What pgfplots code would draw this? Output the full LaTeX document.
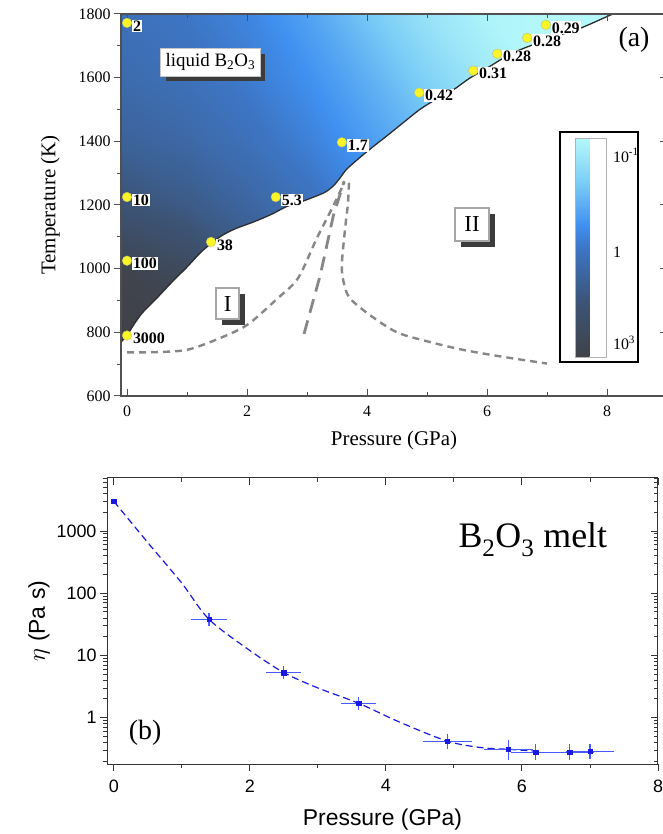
\documentclass[border=0pt]{standalone}
\usepackage{fontspec}
\setmainfont{Liberation Serif}
\setsansfont{Liberation Sans}
\usepackage{pgfplots}
\usepackage{pgfplotstable}
\pgfplotsset{compat=1.18}
\usetikzlibrary{shadows}

\definecolor{dotyellow}{RGB}{250,245,40}
\definecolor{edge}{RGB}{45,45,45}
\definecolor{phase}{RGB}{135,135,135}
\definecolor{bblue}{RGB}{25,25,225}
\definecolor{ebblue}{RGB}{70,90,255}
\definecolor{shadowgray}{RGB}{60,60,60}
\definecolor{axisgray}{RGB}{80,80,80}

\newcommand\fs[1]{\fontsize{#1}{#1}\selectfont}

\pgfplotsset{
  colormap={visc}{rgb255(0cm)=(64,66,72); rgb255(25cm)=(60,84,118);
    rgb255(50cm)=(61,118,198); rgb255(60cm)=(63,144,240);
    rgb255(80cm)=(124,206,246); rgb255(100cm)=(180,248,250)}
}

% colour of the liquid field (0 = 10^3 Pa s, 1 = 10^-1 Pa s)
\pgfplotstableread{
x T c
-0.1 600 0.00
1 600 0.00
2 600 0.05
3 600 0.25
4 600 0.40
5 600 0.50
6 600 0.60
7 600 0.70
9 600 0.80
-0.1 800 0.00
1 800 0.02
2 800 0.15
3 800 0.30
4 800 0.45
5 800 0.55
6 800 0.65
7 800 0.75
9 800 0.85
-0.1 1000 0.03
1 1000 0.12
2 1000 0.26
3 1000 0.38
4 1000 0.50
5 1000 0.60
6 1000 0.70
7 1000 0.80
9 1000 0.90
-0.1 1200 0.24
1 1200 0.30
2 1200 0.38
3 1200 0.46
4 1200 0.56
5 1200 0.66
6 1200 0.78
7 1200 0.88
9 1200 0.95
-0.1 1400 0.36
1 1400 0.40
2 1400 0.46
3 1400 0.54
4 1400 0.64
5 1400 0.74
6 1400 0.86
7 1400 0.95
9 1400 1.00
-0.1 1600 0.42
1 1600 0.46
2 1600 0.52
3 1600 0.60
4 1600 0.70
5 1600 0.82
6 1600 0.93
7 1600 1.00
9 1600 1.00
-0.1 1800 0.46
1 1800 0.50
2 1800 0.56
3 1800 0.66
4 1800 0.78
5 1800 0.90
6 1800 0.98
7 1800 1.00
9 1800 1.00
}\viscgrid

\begin{document}
\begin{tikzpicture}
\useasboundingbox (0,0) rectangle (663bp,834bp);

% ---------- (a) phase diagram ----------
\begin{axis}[
  at={(121bp,438bp)}, anchor=south west,
  scale only axis, width=546bp, height=382bp,
  xmin=-0.1, xmax=9, ymin=600, ymax=1800,
  xtick={0,2,4,6,8}, minor xtick={1,3,5,7},
  ytick={600,800,...,1800}, minor ytick={700,900,...,1700},
  xtick pos=both, ytick pos=right, yticklabels={},
  tick align=inside, major tick length=7bp, minor tick length=4bp,
  axis line style={draw=axisgray, line width=1.2bp},
  tick style={axisgray, line width=1bp},
  /pgf/number format/assume math mode=true,
  xticklabel style={font=\fs{16}, yshift=-6bp},
  xlabel={Pressure (GPa)}, xlabel style={font=\fs{21}}, xlabel shift=8bp,
  axis on top,
  colormap name=visc, point meta min=0, point meta max=1,
  colorbar,
  colorbar style={
    at={(parent axis.north west)}, anchor=north west,
    xshift=446bp, yshift=-124bp,
    scale only axis, width=31bp, height=219bp,
    ytick={0.064,0.48,0.92},
    yticklabels={10\textsuperscript{3},1,10\textsuperscript{-1}},
    yticklabel style={font=\fs{16}, xshift=3bp},
    major tick length=0pt,
    axis line style={draw=gray!60, line width=0.6bp},
  },
]
\addplot[surf, shader=interp, mesh/cols=9, point meta=explicit]
  table[x=x, y=T, meta=c] {\viscgrid};

% solid region (white) below the melting curve
\addplot[fill=white, draw=none] coordinates {
  (-0.1,770) (0.0,790) (0.1,820) (0.25,860) (0.5,908) (0.75,958) (1.0,1005)
  (1.25,1055) (1.55,1100) (1.8,1125) (2.1,1146) (2.4,1170) (2.66,1195)
  (2.9,1210) (3.1,1224) (3.3,1240) (3.44,1260) (3.55,1285) (3.66,1312)
  (3.88,1349) (4.1,1383) (4.33,1417) (4.6,1458) (4.88,1500) (5.15,1532)
  (5.44,1562) (5.7,1597) (6.0,1630) (6.4,1675) (6.83,1708) (7.2,1733)
  (7.55,1755) (7.8,1775) (8.0,1792) (8.1,1800)
  (9.2,1800) (9.2,590) (-0.2,590) (-0.2,770)} -- cycle;

% melting curve
\addplot[edge, line width=1.3bp, smooth] coordinates {
  (-0.1,770) (0.0,790) (0.1,820) (0.25,860) (0.5,908) (0.75,958) (1.0,1005)
  (1.25,1055) (1.55,1100) (1.8,1125) (2.1,1146) (2.4,1170) (2.66,1195)
  (2.9,1210) (3.1,1224) (3.3,1240) (3.44,1260) (3.55,1285) (3.66,1312)
  (3.88,1349) (4.1,1383) (4.33,1417) (4.6,1458) (4.88,1500) (5.15,1532)
  (5.44,1562) (5.7,1597) (6.0,1630) (6.4,1675) (6.83,1708) (7.2,1733)
  (7.55,1755) (7.8,1775) (8.0,1792) (8.1,1800)};

% crystalline phase boundaries
\addplot[phase, line width=2.4bp, dash pattern=on 7bp off 5bp, smooth] coordinates {
  (0.0,737) (0.5,738) (1.0,745) (1.5,778) (2.0,823) (2.5,905) (2.85,970)
  (3.16,1094) (3.44,1198) (3.62,1270)};
\addplot[phase, line width=2.8bp, dash pattern=on 14bp off 8bp] coordinates {
  (2.95,795) (3.22,979) (3.44,1167) (3.62,1275)};
\addplot[phase, line width=2.4bp, dash pattern=on 7bp off 5bp, smooth] coordinates {
  (3.7,1270) (3.68,1200) (3.64,1135) (3.58,1010) (3.62,950) (3.72,906)
  (4.05,854) (4.5,800) (5.0,772) (5.6,745) (6.3,722) (7.0,702)};

% viscosity measurements
\addplot[only marks, mark=*, mark size=4.8bp,
  mark options={fill=dotyellow, draw=yellow!50!gray, line width=0.4bp},
  nodes near coords, point meta=explicit symbolic,
  every node near coord/.style={anchor=west, xshift=4.8bp, yshift=-3bp,
    fill=white, inner sep=1bp, text=black, font=\bfseries\fs{16}}]
  coordinates {
  (0,1772) [2] (0,1225) [10] (0,1025) [100] (0,790) [3000]
  (1.4,1084) [38] (2.48,1225) [5.3] (3.58,1397) [1.7] (4.87,1553) [0.42]
  (5.77,1622) [0.31] (6.17,1675) [0.28] (6.67,1725) [0.28] (6.98,1766) [0.29]};

\node[draw=gray!45, line width=0.8bp, fill=white, inner xsep=5bp, inner ysep=5bp,
  font=\fs{19}, drop shadow={shadow xshift=5bp, shadow yshift=-5bp, fill=shadowgray, opacity=1}]
  at (axis cs:1.39,1648) {liquid B\textsubscript{2}O\textsubscript{3}};
\node[draw=gray!70, line width=1.8bp, fill=white, minimum width=23bp, minimum height=31bp,
  inner sep=1bp, font=\fs{23},
  drop shadow={shadow xshift=6bp, shadow yshift=-6bp, fill=shadowgray, opacity=1}]
  at (axis cs:1.68,890) {I};
\node[draw=gray!70, line width=1.8bp, fill=white, minimum width=34bp, minimum height=33bp,
  inner sep=1bp, font=\fs{23},
  drop shadow={shadow xshift=6bp, shadow yshift=-6bp, fill=shadowgray, opacity=1}]
  at (axis cs:5.75,1139) {II};
\node[font=\fs{28}] at (axis cs:8.45,1719) {(a)};
\draw[black, line width=1.8bp] (rel axis cs:0.804,0.089) rectangle (rel axis cs:0.947,0.691);
\end{axis}

% left ticks of (a) point outward
\begin{axis}[
  at={(121bp,438bp)}, anchor=south west,
  scale only axis, width=546bp, height=382bp,
  xmin=-0.1, xmax=9, ymin=600, ymax=1800,
  xtick=\empty,
  ytick={600,800,...,1800}, minor ytick={700,900,...,1700},
  ytick pos=left, tick align=outside,
  major tick length=7bp, minor tick length=4bp,
  axis line style={draw=none},
  tick style={axisgray, line width=1bp},
  /pgf/number format/assume math mode=true,
  /pgf/number format/1000 sep={},
  yticklabel style={font=\fs{16}},
  ylabel={Temperature (K)}, ylabel style={font=\fs{21}}, ylabel shift=12bp,
]
\end{axis}

% ---------- (b) viscosity ----------
\begin{axis}[
  at={(107bp,70bp)}, anchor=south west,
  scale only axis, width=551bp, height=286bp,
  xmin=-0.1, xmax=8, ymode=log, ymin=0.18, ymax=7100,
  xtick={0,2,4,6,8}, minor xtick={1,3,5,7},
  ytick={1,10,100,1000}, yticklabels={1,10,100,1000},
  minor ytick={0.2,0.3,0.4,0.5,0.6,0.7,0.8,0.9,2,3,4,5,6,7,8,9,
    20,30,40,50,60,70,80,90,200,300,400,500,600,700,800,900,
    2000,3000,4000,5000,6000,7000},
  xtick pos=left, ytick pos=left, tick align=outside,
  major tick length=7bp, minor tick length=4bp,
  axis line style={draw=black!80, line width=1bp},
  tick style={black!80, line width=0.9bp},
  /pgf/number format/assume math mode=true,
  ticklabel style={font=\sffamily\fs{18}},
  xticklabel style={yshift=-5bp},
  xlabel={Pressure (GPa)}, ylabel={$\eta$ (Pa s)},
  label style={font=\sffamily\fs{23}}, xlabel shift=10bp,
]
\addplot[bblue, line width=1.2bp, dash pattern=on 7bp off 4bp, smooth] coordinates {
  (0,3000) (0.5,650) (1.0,145) (1.4,38) (2.0,12) (2.5,5.3) (3.0,3.0)
  (3.6,1.7) (4.2,0.85) (4.9,0.42) (5.4,0.33) (5.8,0.31) (6.2,0.29)};
\addplot[color=bblue, only marks, mark=square*, mark size=2.2bp] coordinates {(0,3000)};
\addplot[ebblue, mark=square*, mark size=2.2bp, draw=none,
  mark options={draw=bblue, fill=bblue},
  error bars/.cd, x dir=both, x explicit, y dir=both, y explicit,
  error bar style={draw=ebblue, line width=1.1bp, solid},
  error mark options={draw=ebblue, mark size=4bp, line width=1.1bp}]
  coordinates {
  (1.4,38) +- (0.2,3)
  (2.5,5.3) +- (0.2,0.5)
  (3.6,1.7) +- (0.2,0.15)
  (4.9,0.42) +- (0.3,0.05)
  (5.8,0.31) +- (0.3,0.07)
  (6.2,0.28) +- (0.3,0.04)
  (6.7,0.28) +- (0.3,0.04)
  (7.0,0.29) +- (0.3,0.04)};
\node[font=\rmfamily\fs{36}, anchor=base] at (axis cs:6.16,533) {B\textsubscript{2}O\textsubscript{3} melt};
\node[font=\rmfamily\fs{28}] at (axis cs:0.46,0.57) {(b)};
\end{axis}

% top and right ticks of (b) point inward
\begin{axis}[
  at={(107bp,70bp)}, anchor=south west,
  scale only axis, width=551bp, height=286bp,
  xmin=-0.1, xmax=8, ymode=log, ymin=0.18, ymax=7100,
  xtick={0,2,4,6,8}, minor xtick={1,3,5,7},
  ytick={1,10,100,1000},
  minor ytick={0.2,0.3,0.4,0.5,0.6,0.7,0.8,0.9,2,3,4,5,6,7,8,9,
    20,30,40,50,60,70,80,90,200,300,400,500,600,700,800,900,
    2000,3000,4000,5000,6000,7000},
  xtick pos=right, ytick pos=right, tick align=inside,
  xticklabels={}, yticklabels={},
  major tick length=7bp, minor tick length=4bp,
  axis line style={draw=none},
  tick style={black!80, line width=0.9bp},
]
\end{axis}
\end{tikzpicture}
\end{document}
